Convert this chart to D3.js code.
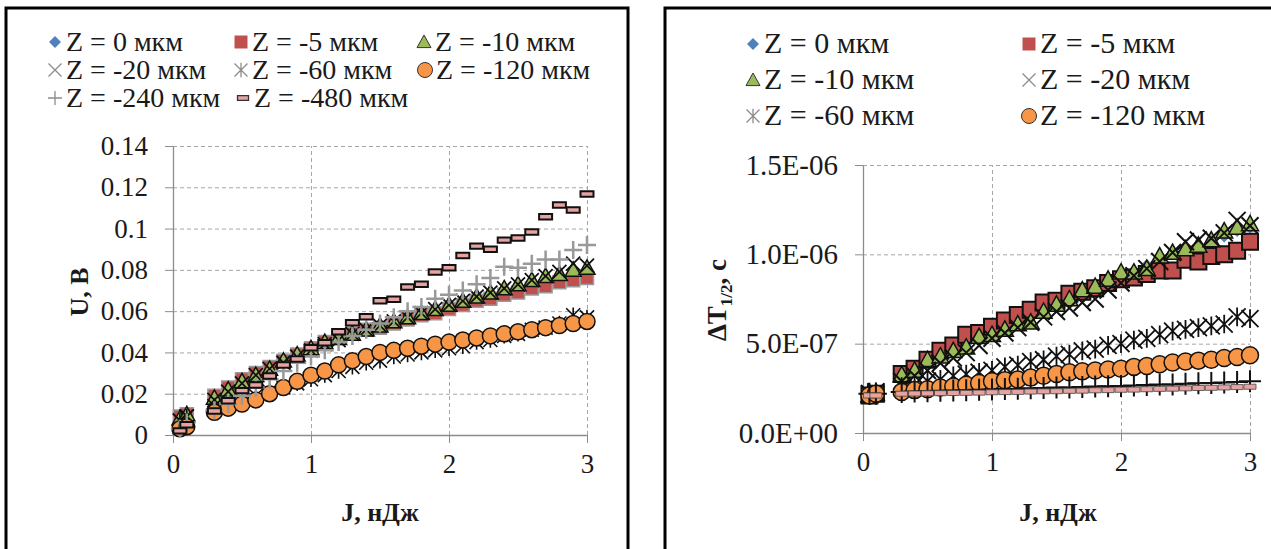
<!DOCTYPE html>
<meta charset="utf-8">
<style>
body { margin: 0; background: #fff; }
.axis path, .axis line { stroke: #8c8c8c; }
.grid line { stroke: #a6a6a6; stroke-dasharray: 4,3; }
.grid path { display: none; }
</style>
<body>
<script src="https://d3js.org/d3.v7.min.js"></script>
<script>

// energy, nJ
var J = [0.05, 0.1, 0.3, 0.4, 0.5, 0.6, 0.7, 0.8, 0.9, 1.0, 1.1, 1.2, 1.3, 1.4, 1.5,
         1.6, 1.7, 1.8, 1.9, 2.0, 2.1, 2.2, 2.3, 2.4, 2.5, 2.6, 2.7, 2.8, 2.9, 3.0];

var seriesNames = ["Z = 0 мкм", "Z = -5 мкм", "Z = -10 мкм", "Z = -20 мкм",
                   "Z = -60 мкм", "Z = -120 мкм", "Z = -240 мкм", "Z = -480 мкм"];

// left chart: U, V
var U_z0   = [0.006, 0.009, 0.019, 0.023, 0.027, 0.030, 0.033, 0.036, 0.039, 0.042, 0.045, 0.047, 0.049, 0.051, 0.053, 0.055, 0.057, 0.058, 0.060, 0.062, 0.064, 0.066, 0.068, 0.070, 0.071, 0.073, 0.075, 0.076, 0.078, 0.079];
var U_z5   = [0.009, 0.010, 0.019, 0.023, 0.027, 0.030, 0.033, 0.036, 0.039, 0.042, 0.045, 0.047, 0.049, 0.051, 0.052, 0.054, 0.056, 0.058, 0.059, 0.061, 0.063, 0.065, 0.066, 0.068, 0.069, 0.071, 0.072, 0.074, 0.075, 0.076];
var U_z10  = [0.008, 0.010, 0.018, 0.022, 0.026, 0.029, 0.032, 0.036, 0.039, 0.042, 0.045, 0.047, 0.049, 0.051, 0.053, 0.055, 0.057, 0.059, 0.061, 0.063, 0.065, 0.067, 0.069, 0.071, 0.073, 0.075, 0.077, 0.078, 0.080, 0.081];
var U_z20  = [0.007, 0.009, 0.017, 0.021, 0.025, 0.029, 0.032, 0.035, 0.038, 0.041, 0.044, 0.046, 0.049, 0.051, 0.053, 0.055, 0.057, 0.059, 0.061, 0.063, 0.065, 0.067, 0.069, 0.071, 0.073, 0.075, 0.077, 0.079, 0.083, 0.082];
var U_z60  = [0.007, 0.009, 0.014, 0.015, 0.017, 0.019, 0.021, 0.023, 0.025, 0.027, 0.029, 0.031, 0.033, 0.035, 0.036, 0.038, 0.039, 0.040, 0.041, 0.042, 0.043, 0.045, 0.046, 0.048, 0.049, 0.051, 0.052, 0.054, 0.058, 0.057];
var U_z120 = [0.003, 0.004, 0.011, 0.013, 0.015, 0.017, 0.020, 0.023, 0.026, 0.029, 0.031, 0.034, 0.036, 0.038, 0.040, 0.041, 0.042, 0.043, 0.044, 0.045, 0.046, 0.047, 0.048, 0.049, 0.050, 0.051, 0.052, 0.053, 0.054, 0.055];
var U_z240 = [0.003, 0.006, 0.012, 0.015, 0.019, 0.023, 0.027, 0.031, 0.035, 0.038, 0.041, 0.045, 0.048, 0.051, 0.054, 0.057, 0.060, 0.062, 0.066, 0.068, 0.070, 0.073, 0.076, 0.0815, 0.081, 0.083, 0.085, 0.085, 0.0896, 0.092];
var U_z480 = [0.002, 0.005, 0.0116, 0.0166, 0.0215, 0.0242, 0.0286, 0.0339, 0.0368, 0.0423, 0.0447, 0.050, 0.0544, 0.0573, 0.065, 0.0658, 0.0717, 0.073, 0.079, 0.081, 0.087, 0.0915, 0.090, 0.0944, 0.0954, 0.0983, 0.1057, 0.1114, 0.109, 0.1167];

// right chart: dT1/2, s
var T_z0   = [2.1e-7, 2.2e-7, 3.2e-7, 3.5e-7, 4.0e-7, 4.4e-7, 4.7e-7, 5.0e-7, 5.4e-7, 5.6e-7, 5.9e-7, 6.3e-7, 6.5e-7, 6.9e-7, 7.2e-7, 7.6e-7, 8.0e-7, 8.3e-7, 8.6e-7, 8.9e-7, 9.1e-7, 9.4e-7, 9.8e-7, 10.1e-7, 10.3e-7, 10.5e-7, 10.7e-7, 11.0e-7, 11.3e-7, 11.5e-7];
var T_z5   = [2.1e-7, 2.2e-7, 3.3e-7, 3.6e-7, 4.1e-7, 4.6e-7, 4.9e-7, 5.5e-7, 5.6e-7, 5.95e-7, 6.3e-7, 6.6e-7, 6.9e-7, 7.3e-7, 7.4e-7, 7.8e-7, 7.9e-7, 8.1e-7, 8.4e-7, 8.6e-7, 8.7e-7, 8.9e-7, 9.1e-7, 9.1e-7, 9.7e-7, 9.6e-7, 9.9e-7, 10.0e-7, 10.2e-7, 10.7e-7];
var T_z10  = [2.1e-7, 2.2e-7, 3.25e-7, 3.5e-7, 4.1e-7, 4.3e-7, 4.6e-7, 4.8e-7, 5.4e-7, 5.5e-7, 5.8e-7, 6.1e-7, 6.2e-7, 6.8e-7, 7.2e-7, 7.5e-7, 8.0e-7, 8.2e-7, 8.6e-7, 9.0e-7, 9.0e-7, 9.2e-7, 9.9e-7, 10.1e-7, 10.3e-7, 10.5e-7, 10.8e-7, 11.3e-7, 11.5e-7, 11.7e-7];
var T_z20  = [2.2e-7, 2.3e-7, 2.9e-7, 3.2e-7, 3.5e-7, 3.9e-7, 4.2e-7, 4.5e-7, 4.9e-7, 5.3e-7, 5.6e-7, 5.9e-7, 6.2e-7, 6.5e-7, 6.8e-7, 7.0e-7, 7.3e-7, 7.5e-7, 8.0e-7, 8.4e-7, 8.8e-7, 9.2e-7, 9.6e-7, 10.1e-7, 10.7e-7, 10.8e-7, 10.9e-7, 11.2e-7, 11.9e-7, 11.6e-7];
var T_z60  = [2.2e-7, 2.3e-7, 2.6e-7, 2.7e-7, 2.9e-7, 3.0e-7, 3.2e-7, 3.3e-7, 3.4e-7, 3.5e-7, 3.7e-7, 3.8e-7, 4.0e-7, 4.1e-7, 4.3e-7, 4.4e-7, 4.6e-7, 4.7e-7, 4.9e-7, 5.0e-7, 5.2e-7, 5.3e-7, 5.5e-7, 5.7e-7, 5.8e-7, 5.9e-7, 6.0e-7, 6.1e-7, 6.5e-7, 6.4e-7];
var T_z120 = [2.1e-7, 2.2e-7, 2.3e-7, 2.4e-7, 2.45e-7, 2.55e-7, 2.6e-7, 2.7e-7, 2.8e-7, 2.9e-7, 2.95e-7, 3.0e-7, 3.1e-7, 3.2e-7, 3.3e-7, 3.4e-7, 3.45e-7, 3.5e-7, 3.55e-7, 3.6e-7, 3.7e-7, 3.75e-7, 3.85e-7, 3.95e-7, 4.0e-7, 4.05e-7, 4.1e-7, 4.2e-7, 4.25e-7, 4.35e-7];
var T_z240 = [2.2e-7, 2.2e-7, 2.30e-7, 2.32e-7, 2.33e-7, 2.36e-7, 2.38e-7, 2.39e-7, 2.42e-7, 2.44e-7, 2.46e-7, 2.47e-7, 2.50e-7, 2.52e-7, 2.54e-7, 2.55e-7, 2.58e-7, 2.60e-7, 2.62e-7, 2.63e-7, 2.66e-7, 2.68e-7, 2.71e-7, 2.72e-7, 2.75e-7, 2.78e-7, 2.80e-7, 2.82e-7, 2.86e-7, 2.90e-7];
var T_z480 = [2.1e-7, 2.1e-7, 2.20e-7, 2.21e-7, 2.22e-7, 2.23e-7, 2.24e-7, 2.25e-7, 2.26e-7, 2.28e-7, 2.29e-7, 2.30e-7, 2.32e-7, 2.33e-7, 2.34e-7, 2.36e-7, 2.37e-7, 2.39e-7, 2.40e-7, 2.42e-7, 2.43e-7, 2.45e-7, 2.47e-7, 2.48e-7, 2.50e-7, 2.52e-7, 2.53e-7, 2.55e-7, 2.57e-7, 2.59e-7];

var xTicks = [0, 1, 2, 3];
var uTicks = [0, 0.02, 0.04, 0.06, 0.08, 0.1, 0.12, 0.14];
var uTickLabels = ["0", "0.02", "0.04", "0.06", "0.08", "0.1", "0.12", "0.14"];
var tTicks = [0, 5e-7, 1e-6, 1.5e-6];
var tTickLabels = ["0.0E+00", "5.0E-07", "1.0E-06", "1.5E-06"];

var FONT = "'Liberation Serif', 'Times New Roman', serif";

// ---- marker shapes (r = half width) ----
function sym(fn) { return { draw: function(ctx, size) { fn(ctx, Math.sqrt(size) / 2); } }; }
var shapes = {
  diamond: sym(function(c, r) { c.moveTo(0, -r); c.lineTo(r, 0); c.lineTo(0, r); c.lineTo(-r, 0); c.closePath(); }),
  square: sym(function(c, r) { c.rect(-r, -r, 2 * r, 2 * r); }),
  triangle: sym(function(c, r) { c.moveTo(0, -r); c.lineTo(r, r * 0.8); c.lineTo(-r, r * 0.8); c.closePath(); }),
  x: sym(function(c, r) { c.moveTo(-r, -r); c.lineTo(r, r); c.moveTo(r, -r); c.lineTo(-r, r); }),
  star: sym(function(c, r) { c.moveTo(-r, -r); c.lineTo(r, r); c.moveTo(r, -r); c.lineTo(-r, r); c.moveTo(0, -r * 1.1); c.lineTo(0, r * 1.1); }),
  circle: sym(function(c, r) { c.moveTo(r, 0); c.arc(0, 0, r, 0, 2 * Math.PI); }),
  plus: sym(function(c, r) { c.moveTo(-r, 0); c.lineTo(r, 0); c.moveTo(0, -r); c.lineTo(0, r); }),
  dash: sym(function(c, r) { c.rect(-r, -r * 0.42, 2 * r, r * 0.84); })
};

var leftStyles = [
  { shape: "diamond", size: 11, fill: "#4f81bd", stroke: "none", sw: 0 },
  { shape: "square", size: 13, fill: "#c0504d", stroke: "#9a9a9a", sw: 1.5 },
  { shape: "triangle", size: 16, fill: "#9bbb59", stroke: "#111", sw: 1.5 },
  { shape: "x", size: 14, fill: "none", stroke: "#111", sw: 1.8 },
  { shape: "star", size: 14, fill: "none", stroke: "#111", sw: 1.6 },
  { shape: "circle", size: 16, fill: "#f79646", stroke: "#111", sw: 1.5 },
  { shape: "plus", size: 18, fill: "none", stroke: "#999", sw: 2.5 },
  { shape: "dash", size: 13, fill: "#e6a3a1", stroke: "#111", sw: 2 }
];
var rightStyles = [
  { shape: "diamond", size: 12, fill: "#4f81bd", stroke: "none", sw: 0 },
  { shape: "square", size: 16, fill: "#c0504d", stroke: "#111", sw: 2 },
  { shape: "triangle", size: 17, fill: "#9bbb59", stroke: "#111", sw: 1.5 },
  { shape: "x", size: 17, fill: "none", stroke: "#111", sw: 2 },
  { shape: "star", size: 17, fill: "none", stroke: "#111", sw: 1.8 },
  { shape: "circle", size: 17, fill: "#f79646", stroke: "#111", sw: 1.5 },
  { shape: "plus", size: 22, fill: "none", stroke: "#111", sw: 2 },
  { shape: "dash", size: 12, fill: "#e6a3a1", stroke: "#444", sw: 0.8 }
];
var legendStyles = [
  { shape: "diamond", size: 12, fill: "#4f81bd", stroke: "none", sw: 0 },
  { shape: "square", size: 13, fill: "#c0504d", stroke: "none", sw: 0 },
  { shape: "triangle", size: 14, fill: "#9bbb59", stroke: "#333", sw: 1 },
  { shape: "x", size: 13, fill: "none", stroke: "#8c8c8c", sw: 1.3 },
  { shape: "star", size: 13, fill: "none", stroke: "#8c8c8c", sw: 1.3 },
  { shape: "circle", size: 15, fill: "#f79646", stroke: "#333", sw: 1 },
  { shape: "plus", size: 14, fill: "none", stroke: "#8c8c8c", sw: 1.3 },
  { shape: "dash", size: 11, fill: "#e6a3a1", stroke: "#333", sw: 1.3 }
];

var svg = d3.select("body").append("svg")
    .attr("width", 1271)
    .attr("height", 549)
    .style("font-family", FONT);

function marker(sel, st) {
  sel.attr("d", d3.symbol().type(shapes[st.shape]).size(st.size * st.size))
     .attr("fill", st.fill)
     .attr("stroke", st.stroke)
     .attr("stroke-width", st.sw);
}

function drawChart(o) {
  var x = d3.scaleLinear().domain([0, 3]).range([o.left, o.right]);
  var y = d3.scaleLinear().domain(o.yDomain).range([o.bottom, o.top]);
  var g = svg.append("g");

  // grid
  g.append("g").attr("class", "grid")
      .attr("transform", "translate(" + o.left + ",0)")
      .call(d3.axisLeft(y).tickValues(o.yTicks.slice(1)).tickSize(-(o.right - o.left)).tickFormat(""));
  g.append("g").attr("class", "grid")
      .attr("transform", "translate(0," + o.bottom + ")")
      .call(d3.axisBottom(x).tickValues(xTicks.slice(1)).tickSize(-(o.bottom - o.top)).tickFormat(""));

  // axes
  g.append("g").attr("class", "axis yaxis")
      .attr("transform", "translate(" + o.left + ",0)")
      .call(d3.axisLeft(y).tickValues(o.yTicks).tickSize(8).tickSizeOuter(0).tickPadding(o.yPad)
        .tickFormat(function(d, i) { return o.yLabels[i]; }));
  g.append("g").attr("class", "axis xaxis")
      .attr("transform", "translate(0," + o.bottom + ")")
      .call(d3.axisBottom(x).tickValues(xTicks).tickSize(8).tickSizeOuter(0).tickPadding(11)
        .tickFormat(d3.format("d")));
  g.selectAll(".axis").attr("font-family", FONT);
  g.select(".yaxis").attr("font-size", o.tickFont);
  g.select(".xaxis").attr("font-size", 27);
  g.selectAll(".axis text").attr("fill", "#1a1a1a");
  g.selectAll(".axis .domain").attr("stroke-width", 1.3);

  // points, series in order so later ones sit on top
  o.series.forEach(function(vals, k) {
    var pts = J.map(function(j, i) { return [j, vals[i]]; });
    g.append("g").selectAll("path").data(pts).join("path")
        .attr("transform", function(d) { return "translate(" + x(d[0]) + "," + y(d[1]) + ")"; })
        .call(marker, o.styles[k]);
  });

  // x title
  g.append("text")
      .attr("x", o.xTitleX).attr("y", 521).attr("text-anchor", "middle")
      .attr("font-size", 26).attr("font-weight", "bold").attr("fill", "#1a1a1a")
      .text("J, нДж");

  // legend
  o.legend.forEach(function(it) {
    var lg = g.append("g").attr("transform", "translate(" + it.x + "," + it.y + ")");
    lg.append("path").call(marker, legendStyles[it.k]);
    lg.append("text").attr("x", 11).attr("y", 9)
        .attr("font-size", o.legFont).attr("fill", "#1a1a1a")
        .text(seriesNames[it.k]);
  });
  return g;
}

// panel frames
svg.append("rect").attr("x", 6).attr("y", 8).attr("width", 622).attr("height", 560)
    .attr("fill", "none").attr("stroke", "#000").attr("stroke-width", 3);
svg.append("rect").attr("x", 665).attr("y", 8).attr("width", 640).attr("height", 560)
    .attr("fill", "none").attr("stroke", "#000").attr("stroke-width", 3);

var leftG = drawChart({
  left: 173, right: 587, top: 146, bottom: 435,
  yDomain: [0, 0.14], yTicks: uTicks, yLabels: uTickLabels, yPad: 17, tickFont: 27,
  series: [U_z0, U_z5, U_z10, U_z20, U_z60, U_z120, U_z240, U_z480],
  styles: leftStyles, xTitleX: 380, legFont: 28,
  legend: [
    { k: 0, x: 55, y: 42 }, { k: 1, x: 241, y: 42 }, { k: 2, x: 424, y: 42 },
    { k: 3, x: 55, y: 70 }, { k: 4, x: 241, y: 70 }, { k: 5, x: 425, y: 70 },
    { k: 6, x: 55, y: 98 }, { k: 7, x: 243, y: 98 }
  ]
});
leftG.append("text")
    .attr("transform", "translate(88,292) rotate(-90)").attr("text-anchor", "middle")
    .attr("font-size", 26).attr("font-weight", "bold").attr("fill", "#1a1a1a")
    .text("U, В");

var rightG = drawChart({
  left: 863, right: 1250, top: 165, bottom: 433,
  yDomain: [0, 1.5e-6], yTicks: tTicks, yLabels: tTickLabels, yPad: 17, tickFont: 29,
  series: [T_z0, T_z5, T_z10, T_z20, T_z60, T_z120, T_z240, T_z480],
  styles: rightStyles, xTitleX: 1058, legFont: 30,
  legend: [
    { k: 0, x: 753, y: 44 }, { k: 1, x: 1029, y: 44 },
    { k: 2, x: 753, y: 80 }, { k: 3, x: 1029, y: 80 },
    { k: 4, x: 753, y: 116 }, { k: 5, x: 1029, y: 116 }
  ]
});
var yt = rightG.append("text")
    .attr("transform", "translate(726,300) rotate(-90)").attr("text-anchor", "middle")
    .attr("font-size", 27).attr("font-weight", "bold").attr("fill", "#1a1a1a");
yt.append("tspan").text("ΔT");
yt.append("tspan").attr("font-size", 17).attr("dy", 6).text("1/2");
yt.append("tspan").attr("dy", -6).text(", с");

</script>
</body>
